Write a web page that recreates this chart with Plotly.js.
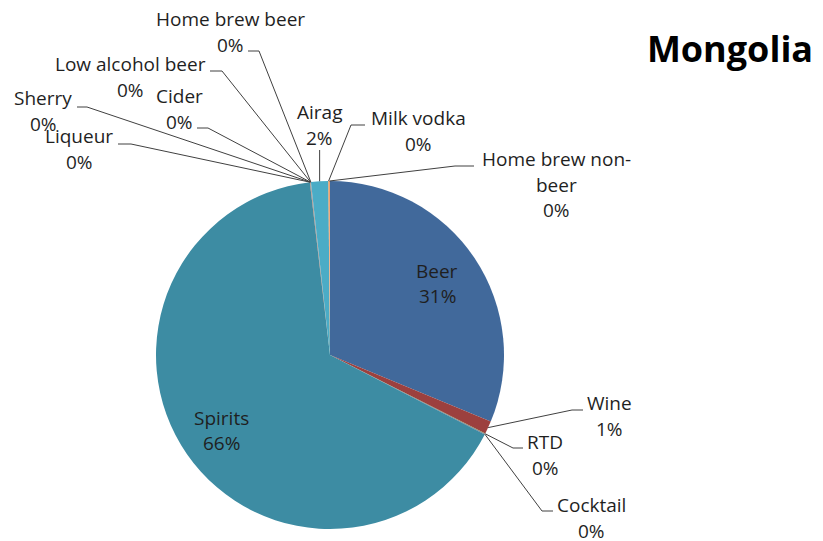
<!DOCTYPE html>
<html>
<head>
<meta charset="utf-8">
<script src="https://cdn.plot.ly/plotly-3.0.1.min.js"></script>
<style>html,body{margin:0;padding:0;background:#fff;}#chart{width:823px;height:541px;}</style>
</head>
<body>
<div id="chart"></div>
<script>
// ---- data ----
const titleText = "Mongolia";
const categories = ["Beer", "Wine", "RTD", "Cocktail", "Spirits", "Liqueur", "Sherry", "Cider",
  "Low alcohol beer", "Home brew beer", "Airag", "Milk vodka", "Home brew non-beer"];
const shares = [31.3, 1.2, 0.05, 0.05, 65.7, 0.02, 0.02, 0.02, 0.02, 0.02, 1.6, 0.05, 0.1];
const labelLines = [["Beer"], ["Wine"], ["RTD"], ["Cocktail"], ["Spirits"], ["Liqueur"], ["Sherry"], ["Cider"],
  ["Low alcohol beer"], ["Home brew beer"], ["Airag"], ["Milk vodka"], ["Home brew non-", "beer"]];
const colors = ["#41699B", "#9C403E", "#7E9A48", "#6A5287", "#3D8CA3", "#E0823D", "#4F81BD", "#C0504D",
  "#9BBB59", "#8064A2", "#4BACC6", "#F79646", "#F0A070"];

// ---- layout constants ----
const W = 823, H = 541;
const CX = 330, CY = 355, R = 174;
const FONT = "Open Sans, Noto Sans, sans-serif";
const LINE = 25.5;

// placement of labels: inside (fraction of radius) or outside (text center + elbow segment)
const place = {
  "Beer": {inside: 0.74},
  "Spirits": {inside: 0.76},
  "Wine": {x: 609, y: 403, seg: [583, 572, 410]},
  "RTD": {x: 545, y: 442, seg: [523, 513, 448]},
  "Cocktail": {x: 591, y: 505, seg: [553, 542, 511]},
  "Liqueur": {x: 79, y: 136, seg: [118, 131, 144]},
  "Sherry": {x: 43, y: 98, seg: [77, 87, 107]},
  "Cider": {x: 179, y: 96, seg: [197, 208, 128]},
  "Low alcohol beer": {x: 130, y: 64, seg: [210, 222, 71]},
  "Home brew beer": {x: 230, y: 19, seg: [248, 259, 51]},
  "Airag": {x: 319, y: 112, vert: 150},
  "Milk vodka": {x: 418, y: 118, seg: [365, 351, 125]},
  "Home brew non-beer": {x: 556, y: 159, seg: [474, 455, 166]}
};

const total = shares.reduce((a, b) => a + b, 0);
const annotations = [];
const shapes = [];
let cum = 0;
categories.forEach((cat, i) => {
  const frac = shares[i] / total;
  const midAng = (cum + frac / 2) * 2 * Math.PI; // clockwise from 12 o'clock
  cum += frac;
  const pct = Math.round(frac * 100) + "%";
  const lines = labelLines[i].concat([pct]);
  const p = place[cat];
  let cx, cy;
  if (p.inside) {
    cx = CX + R * p.inside * Math.sin(midAng);
    cy = CY - R * p.inside * Math.cos(midAng);
    cy = cy - (lines.length - 1) * LINE / 2;
  } else {
    cx = p.x; cy = p.y;
    const tx = CX + R * Math.sin(midAng);
    const ty = CY - R * Math.cos(midAng);
    let path;
    if (p.vert !== undefined) {
      path = `M ${tx} ${p.vert} L ${tx} ${ty}`;
    } else {
      path = `M ${p.seg[0]} ${p.seg[2]} L ${p.seg[1]} ${p.seg[2]} L ${tx} ${ty}`;
    }
    shapes.push({type: "path", xref: "x", yref: "y", path: path,
      line: {color: "#404040", width: 1}});
  }
  lines.forEach((t, k) => {
    annotations.push({xref: "x", yref: "y", x: cx, y: cy + k * LINE, text: t, showarrow: false,
      xanchor: "center", yanchor: "middle", font: {family: FONT, size: 19, color: "#1f1f1f"}});
  });
});

const trace = {
  type: "pie",
  labels: categories,
  values: shares,
  sort: false,
  direction: "clockwise",
  rotation: 0,
  textinfo: "none",
  hoverinfo: "label+percent",
  marker: {colors: colors, line: {width: 0}},
  showlegend: false,
  domain: {x: [(CX - R) / W, (CX + R) / W], y: [(H - CY - R) / H, (H - CY + R) / H]}
};

const layout = {
  width: W, height: H,
  margin: {l: 0, r: 0, t: 0, b: 0},
  paper_bgcolor: "#ffffff",
  plot_bgcolor: "rgba(0,0,0,0)",
  showlegend: false,
  title: {text: titleText, x: 730 / W, xanchor: "center", y: 1 - 49 / H, yanchor: "middle", yref: "container",
    font: {family: FONT, size: 36, color: "#000000", weight: "bold"}},
  xaxis: {range: [0, W], visible: false, fixedrange: true},
  yaxis: {range: [H, 0], visible: false, fixedrange: true},
  annotations: annotations,
  shapes: shapes
};

Plotly.newPlot("chart", [trace], layout, {displayModeBar: false, staticPlot: true});
</script>
</body>
</html>
